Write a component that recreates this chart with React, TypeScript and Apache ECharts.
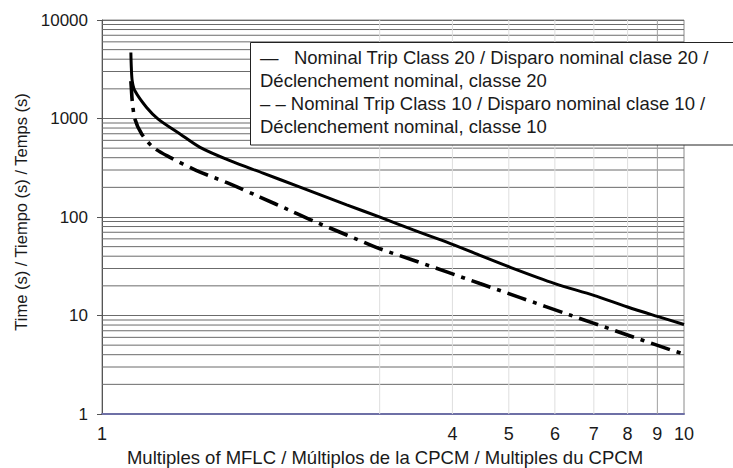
import React, { useEffect, useRef } from "react";
import * as echarts from "echarts";

// Nominal Trip Class 20 — [multiple of MFLC, time (s)]
const class20: [number, number][] = [
  [1.121, 4670], [1.123, 3300], [1.127, 2411], [1.139, 1910], [1.193, 1294],
  [1.249, 987], [1.362, 696], [1.474, 509], [1.659, 373], [1.891, 279],
  [2.161, 207], [2.633, 133], [3.004, 99.5], [3.427, 73.9], [3.912, 55.6],
  [4.46, 40.8], [5.02, 31.0], [6.0, 21.1], [7.0, 16.0], [8.0, 12.2],
  [9.0, 9.8], [10.0, 8.1],
];

// Nominal Trip Class 10 — [multiple of MFLC, time (s)]
const class10: [number, number][] = [
  [1.121, 2400], [1.124, 1900], [1.127, 1513], [1.139, 987], [1.17, 696],
  [1.225, 509], [1.309, 403], [1.454, 296], [1.659, 217], [1.868, 159.4],
  [2.104, 116.4], [2.307, 91.1], [2.633, 65.7], [3.004, 47.6], [3.427, 36.4],
  [3.912, 27.7], [4.46, 21.1], [5.23, 15.2], [6.37, 10.1], [7.66, 6.93],
  [9.46, 4.5], [10.0, 4.05],
];

const seriesNames = [
  "Nominal Trip Class 20 / Disparo nominal clase 20 / Déclenchement nominal, classe 20",
  "Nominal Trip Class 10 / Disparo nominal clase 10 / Déclenchement nominal, classe 10",
];

const legendLines = [
  "—   Nominal Trip Class 20 / Disparo nominal clase 20 /",
  "Déclenchement nominal, classe 20",
  "– – Nominal Trip Class 10 / Disparo nominal clase 10 /",
  "Déclenchement nominal, classe 10",
];

const xRange = [1, 10];
const yRange = [1, 10000];
const xTickLabels = [1, 4, 5, 6, 7, 8, 9, 10];
const xLightGrid = [3, 4, 5, 6, 7, 8];
const xDarkGrid = [9];
const yMinorGrid = [
  2, 3, 4, 5, 6, 7, 8, 9,
  20, 30, 40, 50, 60, 70, 80, 90,
  200, 300, 400, 500, 600, 700, 800, 900,
  2000, 3000, 4000, 5000, 6000, 7000, 8000, 9000,
];

const xTitle = "Multiples of MFLC / Múltiplos de la CPCM / Multiples du CPCM";
const yTitle = "Time (s) / Tiempo (s) / Temps (s)";

const FONT = "'Liberation Sans', Arial, Helvetica, sans-serif";

export default function App() {
  const ref = useRef<HTMLDivElement>(null);

  useEffect(() => {
    if (!ref.current) return;
    const chart = echarts.init(ref.current, null, { renderer: "svg" });

    const gridLine = (pts: number[][], color: string) => ({
      type: "line",
      data: pts,
      silent: true,
      z: 1,
      symbol: "none",
      showSymbol: false,
      smooth: false,
      lineStyle: { color, width: 1, type: "solid" },
      emphasis: { disabled: true },
      tooltip: { show: false },
    });

    const option: any = {
      animation: false,
      backgroundColor: "#ffffff",
      textStyle: { fontFamily: FONT },
      grid: {
        left: 102,
        right: 49,
        top: 20,
        bottom: 54,
        show: true,
        borderColor: "#8a8a8a",
        borderWidth: 1,
        backgroundColor: "transparent",
        outerBoundsMode: "none",
        containLabel: false,
      },
      xAxis: {
        type: "log",
        logBase: 10,
        min: xRange[0],
        max: xRange[1],
        name: xTitle,
        nameLocation: "middle",
        nameGap: 33,
        nameTextStyle: { fontSize: 18.5, color: "#1a1a1a", fontFamily: FONT, padding: [0, 16, 0, 0] },
        axisLine: { show: true, lineStyle: { color: "#6e70a6", width: 2 } },
        axisTick: { show: false, customValues: xTickLabels },
        axisLabel: {
          customValues: xTickLabels,
          fontSize: 18,
          color: "#1a1a1a",
          margin: 11,
          fontFamily: FONT,
          formatter: (v: number) => String(Math.round(v)),
        },
        splitLine: { show: false },
        minorTick: { show: false },
        minorSplitLine: { show: false },
      },
      yAxis: {
        type: "log",
        logBase: 10,
        min: yRange[0],
        max: yRange[1],
        name: yTitle,
        nameLocation: "middle",
        nameGap: 73,
        nameRotate: 90,
        nameTextStyle: { fontSize: 16.5, color: "#1a1a1a", fontFamily: FONT, padding: [0, 0, 0, 10] },
        axisLine: { show: true, lineStyle: { color: "#555555", width: 1 } },
        axisTick: { show: true, length: 5, lineStyle: { color: "#555555" } },
        axisLabel: {
          fontSize: 17,
          color: "#1a1a1a",
          margin: 14,
          fontFamily: FONT,
          formatter: (v: number) => String(Math.round(v)),
        },
        splitLine: { show: true, lineStyle: { color: "#6b6b6b", width: 1 } },
        minorTick: { show: false },
        minorSplitLine: { show: false },
      },
      series: [
        ...yMinorGrid.map((v) => gridLine([[xRange[0], v], [xRange[1], v]], "#6b6b6b")),
        ...xLightGrid.map((v) => gridLine([[v, yRange[0]], [v, yRange[1]]], "#dedede")),
        ...xDarkGrid.map((v) => gridLine([[v, yRange[0]], [v, yRange[1]]], "#a0a0a0")),
        {
          name: seriesNames[0],
          type: "line",
          data: class20,
          smooth: 0.3,
          showSymbol: false,
          symbol: "none",
          z: 4,
          lineStyle: { color: "#000000", width: 3, type: "solid" },
        },
        {
          name: seriesNames[1],
          type: "line",
          data: class10,
          smooth: 0.3,
          showSymbol: false,
          symbol: "none",
          z: 4,
          lineStyle: { color: "#000000", width: 3.6, type: [20, 7, 4, 7] },
        },
      ],
      graphic: [
        {
          type: "rect",
          z: 100,
          shape: { x: 250.5, y: 42.5, width: 520, height: 102.5 },
          style: { fill: "#ffffff", stroke: "#222222", lineWidth: 1 },
        },
        ...legendLines.map((t, i) => ({
          type: "text",
          z: 101,
          x: 260,
          y: 57.7 + i * 23,
          style: {
            text: t,
            fontSize: 18.5,
            fontFamily: FONT,
            fill: "#1a1a1a",
            verticalAlign: "middle",
          },
        })),
      ],
    };

    chart.setOption(option);
    return () => chart.dispose();
  }, []);

  return (
    <div
      ref={ref}
      style={{ position: "absolute", left: 0, top: 0, width: 733, height: 468, background: "#fff" }}
    />
  );
}
